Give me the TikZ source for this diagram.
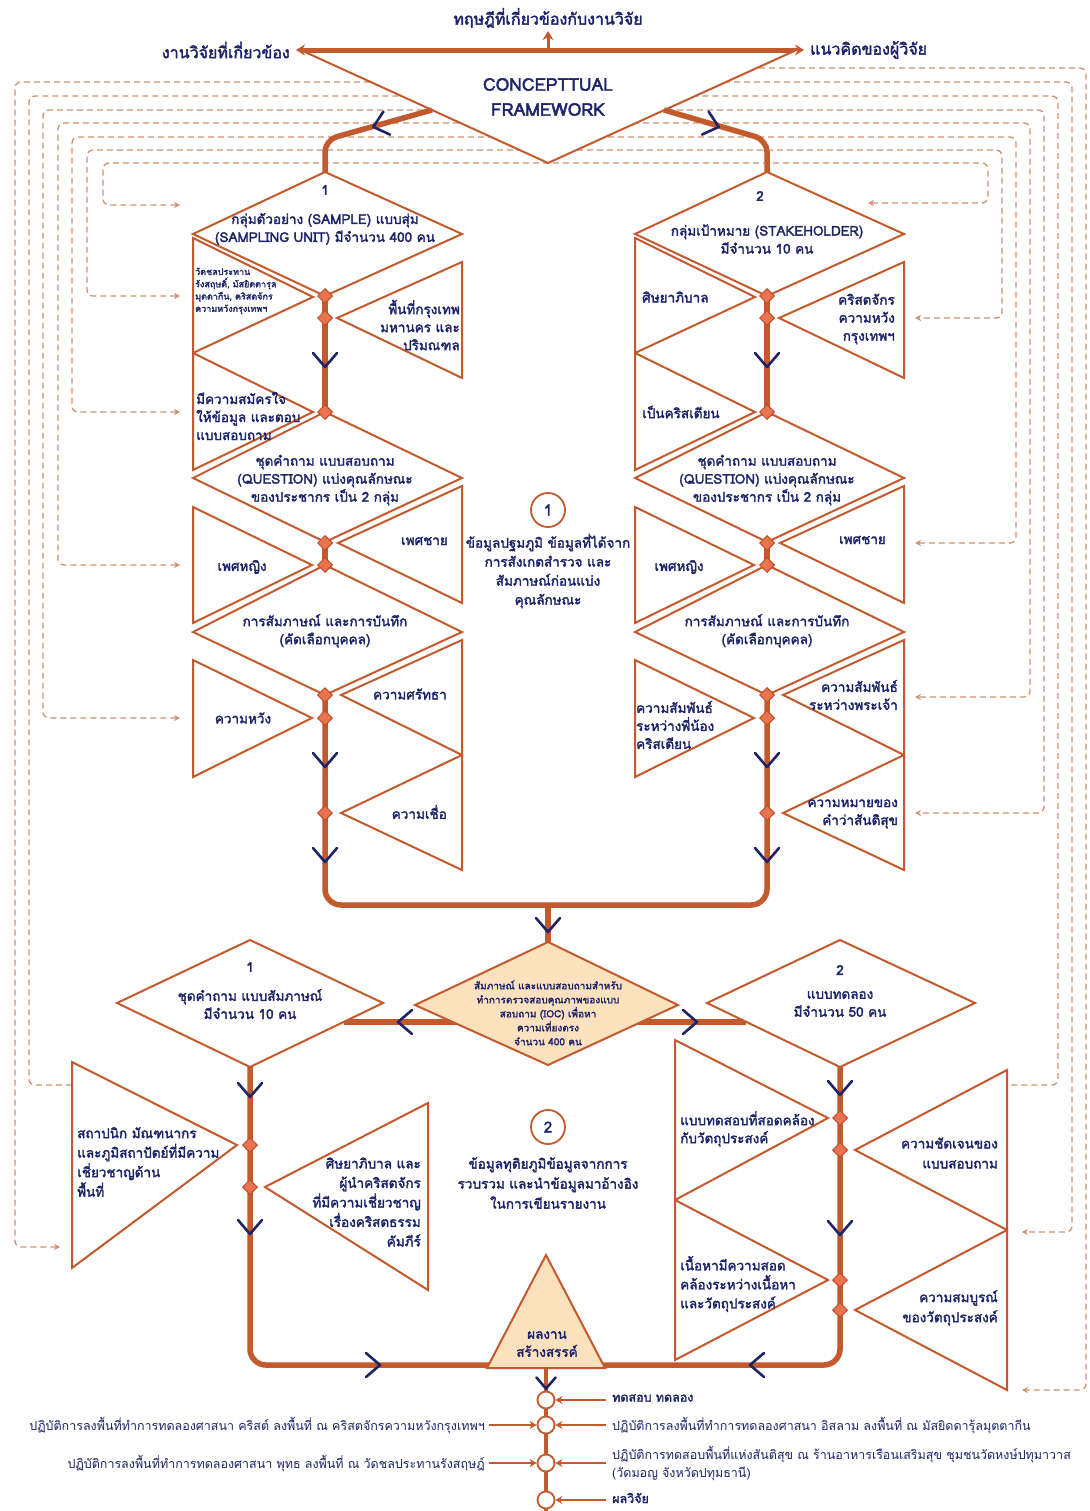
\documentclass[tikz,border=0pt]{standalone}
\usepackage{fontspec}
\setmainfont[Script=Thai,BoldFont=Loma,BoldFeatures={FakeBold=2.3}]{Loma}
\usepackage{tikz}
\usetikzlibrary{arrows.meta,calc,positioning,shapes.geometric}

\definecolor{rust}{HTML}{C35A2E}
\definecolor{navy}{HTML}{1D2568}
\definecolor{dashc}{HTML}{CF8F6E}
\definecolor{peach}{HTML}{FCE1BF}
\definecolor{markfill}{HTML}{EA7450}
\definecolor{markedge}{HTML}{C24A25}

% open triangle: edge x, top y, apex x, apex y, bottom y
\newcommand{\tri}[5]{\path[frame] (#1,#2) -- (#3,#4) -- (#1,#5) -- cycle;}
% kite: centre x, top y, left x, right x, middle y, bottom y
\newcommand{\kite}[6]{\path[frame] (#1,#2) -- (#4,#5) -- (#1,#6) -- (#3,#5) -- cycle;}

\begin{document}
\begin{tikzpicture}[x=1pt,y=-1pt,
  frame/.style={draw=rust,line width=2pt,fill=white},
  flow/.style={draw=rust,line width=5.5pt},
  dashlink/.style={draw=dashc,line width=1.3pt,dash pattern=on 6pt off 4pt,rounded corners=6pt},
  dtip/.style={{Stealth[length=6pt,width=6pt]}-{Stealth[length=6pt,width=6pt]}},
  marker/.style={diamond,draw=markedge,fill=markfill,line width=1pt,minimum size=15pt,inner sep=0pt},
  ring/.style={circle,draw=rust,fill=white,line width=1.8pt,minimum size=17pt,inner sep=0pt},
  numring/.style={circle,draw=rust,line width=1.8pt,minimum size=34pt,inner sep=0pt,text=navy,
                  font=\bfseries\fontsize{15}{16}\selectfont},
  lbl/.style={text=navy,font=\bfseries\fontsize{13.5}{18}\selectfont,align=center,inner sep=0pt},
  tiny/.style={text=navy,font=\bfseries\fontsize{9}{12.3}\selectfont,align=left,inner sep=0pt},
  note/.style={text=navy,font=\fontsize{12.5}{18}\selectfont,inner sep=0pt},
  head/.style={text=navy,font=\bfseries\fontsize{16}{18}\selectfont,inner sep=0pt},
  bar/.style={draw=rust,line width=2.8pt,-{Stealth[length=7pt,width=8pt]}},
  toparrow/.style={draw=rust,line width=3pt,-{Stealth[length=9pt,width=11pt]}},
  chev/.pic={\draw[navy,line width=2.6pt,line cap=round,line join=round] (-12,-7) -- (0,7) -- (12,-7);}]

\useasboundingbox[fill=white] (0,0) rectangle (1089,1511);

% dashed feedback loops
\foreach \ax/\ay/\xl/\yt/\xr/\bx/\by in {180/205/103/163/988/868/203,
    180/296/87/150/1002/915/318, 180/412/72/137/1016/915/543,
    180/565/58/123/1030/915/697, 180/718/43/110/1044/915/813,
    60/1247/15/82/1072/1022/1232}
  \draw[dashlink,dtip] (\ax,\ay) -- (\xl,\ay) -- (\xl,\yt) -- (\xr,\yt) -- (\xr,\by) -- (\bx,\by);
\draw[dashlink] (72,1085) -- (29,1085) -- (29,96) -- (1058,96) -- (1058,1085) -- (1007,1085);
\draw[dashlink,-{Stealth[length=6pt,width=6pt]}] (759,68) -- (1086,68) -- (1086,1390) -- (1022,1390);

% framework
\path[frame] (305,52) -- (792,52) -- (548,163) -- cycle;
\node[text=navy,font=\bfseries\fontsize{17.5}{25}\selectfont,align=center,inner sep=0pt] (cf) at (548,97)
  {CONCEPTTUAL\\FRAMEWORK};
\node[head] (theory) at (548,18) {ทฤษฎีที่เกี่ยวข้องกับงานวิจัย};
\node[head,anchor=east] (related) at (290,50) {งานวิจัยที่เกี่ยวข้อง};
\node[head,anchor=west] (idea) at (810,50) {แนวคิดของผู้วิจัย};
\coordinate (hub) at (548,50);
\draw[toparrow] (hub) -- ([xshift=6pt]related.east);
\draw[toparrow] (hub) -- ([xshift=-6pt]idea.west);
\draw[toparrow] (hub) -- ([yshift=-3pt]theory.south);

% thick flow lines
\draw[flow,rounded corners=12pt] (432,110) -- (325,140) -- (325,172);
\draw[flow,rounded corners=12pt] (664,110) -- (767,140) -- (767,172);
\foreach \cx in {325,767} {
  \draw[flow] (\cx,296) -- (\cx,412);
  \draw[flow] (\cx,543) -- (\cx,565);
}
\draw[flow,rounded corners=16pt] (325,695) -- (325,905) -- (767,905) -- (767,695);
\draw[flow] (548,905) -- (548,942);
\draw[flow] (344,1022) -- (746,1022);
\draw[flow,rounded corners=16pt] (250,1067) -- (250,1365) -- (840,1365) -- (840,1067);
\draw[draw=rust,line width=4pt] (546,1365) -- (546,1511);

% upper columns
\foreach \cx in {325,767} {
  \pgfmathsetmacro\L{\cx-132}
  \pgfmathsetmacro\R{\cx+137}
  \kite{\cx}{172}{\L}{\R}{234}{296}
  \tri{\L}{238}{\cx-12}{297}{353}
  \tri{\R}{262}{\cx+12}{318}{378}
  \tri{\L}{353}{\cx-12}{412}{470}
  \kite{\cx}{412}{\L}{\R}{478}{542}
  \tri{\R}{486}{\cx+13}{543}{603}
  \tri{\L}{507}{\cx-13}{565}{623}
  \kite{\cx}{565}{\L}{\R}{632}{695}
  \tri{\R}{640}{\cx+16}{695}{755}
  \tri{\L}{660}{\cx-13}{718}{777}
  \tri{\R}{755}{\cx+16}{813}{870}
}

% lower part
\kite{250}{940}{117}{383}{1003}{1067}
\kite{840}{940}{707}{975}{1003}{1067}
\tri{72}{1062}{237}{1145}{1268}
\tri{428}{1103}{265}{1187}{1290}
\tri{675}{1040}{828}{1118}{1200}
\tri{1007}{1070}{855}{1150}{1230}
\tri{675}{1200}{828}{1280}{1360}
\tri{1007}{1230}{855}{1310}{1390}
\path[frame,fill=peach] (548,942) -- (678,1005) -- (548,1065) -- (415,1005) -- cycle;
\path[frame,fill=peach] (546,1255) -- (605,1368) -- (487,1368) -- cycle;

% markers and chevrons
\foreach \cx in {325,767}
  \foreach \y in {296,318,412,543,565,695,718,813}
    \node[marker] (m\cx-\y) at (\cx,\y) {};
\foreach \mx/\my in {250/1145,250/1187,840/1118,840/1150,840/1280,840/1310}
  \node[marker] (m\mx-\my) at (\mx,\my) {};
\foreach \cx in {325,767}
  \foreach \y in {360,760,855}
    \pic at (\cx,\y) {chev};
\foreach \p/\q in {548/925,250/1090,250/1227,840/1088,840/1228}
  \pic at (\p,\q) {chev};
\pic[rotate=-90] at (405,1022) {chev};
\pic[rotate=90] at (690,1022) {chev};
\pic[rotate=90] at (373,1365) {chev};
\pic[rotate=-90] at (757,1365) {chev};
\pic[rotate=-74] at (380,125) {chev};
\pic[rotate=74] at (712,125) {chev};
\pic[scale=0.8] at (546,1383) {chev};

% left column texts
\node[lbl] (s1num) at (325,190) {1};
\node[lbl] (sample) at (325,229) {กลุ่มตัวอย่าง (SAMPLE) แบบสุ่ม\\(SAMPLING UNIT) มีจำนวน 400 คน};
\node[tiny,anchor=west] (site) at (195,291) {วัดชลประทาน\\รังสฤษดิ์, มัสยิดดารุล\\มุตตากีน, คริสตจักร\\ความหวังกรุงเทพฯ};
\node[lbl,anchor=east,align=right] (area) at (460,325) {พื้นที่กรุงเทพ\\มหานคร และ\\ปริมณฑล};
\node[lbl,anchor=west,align=left] (will) at (196,416) {มีความสมัครใจ\\ให้ข้อมูล และตอบ\\แบบสอบถาม};
\node[lbl] (quest1) at (325,480) {ชุดคำถาม แบบสอบถาม\\(QUESTION) แบ่งคุณลักษณะ\\ของประชากร เป็น 2 กลุ่ม};
\node[lbl,anchor=east] (male1) at (448,541) {เพศชาย};
\node[lbl] (female1) at (242,567) {เพศหญิง};
\node[lbl] (intv1) at (325,631) {การสัมภาษณ์ และการบันทึก\\(คัดเลือกบุคคล)};
\node[lbl,anchor=east] (faith) at (447,694) {ความศรัทธา};
\node[lbl] (hope) at (243,718) {ความหวัง};
\node[lbl,anchor=east] (belief) at (447,812) {ความเชื่อ};

% right column texts
\node[lbl] (s2num) at (760,196) {2};
\node[lbl] (stake) at (767,239) {กลุ่มเป้าหมาย (STAKEHOLDER)\\มีจำนวน 10 คน};
\node[lbl,anchor=west] (pastor) at (642,297) {ศิษยาภิบาล};
\node[lbl,anchor=east,align=right] (church) at (895,319) {คริสตจักร\\ความหวัง\\กรุงเทพฯ};
\node[lbl,anchor=west] (christian) at (642,412) {เป็นคริสเตียน};
\node[lbl] (quest2) at (767,480) {ชุดคำถาม แบบสอบถาม\\(QUESTION) แบ่งคุณลักษณะ\\ของประชากร เป็น 2 กลุ่ม};
\node[lbl,anchor=east] (male2) at (886,540) {เพศชาย};
\node[lbl] (female2) at (679,567) {เพศหญิง};
\node[lbl] (intv2) at (767,631) {การสัมภาษณ์ และการบันทึก\\(คัดเลือกบุคคล)};
\node[lbl,anchor=east,align=right] (god) at (898,695) {ความสัมพันธ์\\ระหว่างพระเจ้า};
\node[lbl,anchor=west,align=left] (kin) at (636,725) {ความสัมพันธ์\\ระหว่างพี่น้อง\\คริสเตียน};
\node[lbl,anchor=east,align=right] (peace) at (898,814) {ความหมายของ\\คำว่าสันติสุข};

% centre notes
\node[numring] (one) at (548,510) {1};
\node[lbl,font=\bfseries\fontsize{13.5}{19}\selectfont] (primary) at (548,571) {ข้อมูลปฐมภูมิ ข้อมูลที่ได้จาก\\การสังเกตสำรวจ และ\\สัมภาษณ์ก่อนแบ่ง\\คุณลักษณะ};
\node[numring] (two) at (548,1127) {2};
\node[lbl,font=\bfseries\fontsize{13.5}{20}\selectfont] (secondary) at (548,1183) {ข้อมูลทุติยภูมิข้อมูลจากการ\\รวบรวม และนำข้อมูลมาอ้างอิง\\ในการเขียนรายงาน};

% lower texts
\node[lbl] (n1) at (250,967) {1};
\node[lbl] (ivset) at (250,1004) {ชุดคำถาม แบบสัมภาษณ์\\มีจำนวน 10 คน};
\node[lbl] (n2) at (840,970) {2};
\node[lbl] (trial) at (840,1004) {แบบทดลอง\\มีจำนวน 50 คน};
\node[lbl,font=\bfseries\fontsize{10}{14}\selectfont] (ioc) at (548,1013)
  {สัมภาษณ์ และแบบสอบถามสำหรับ\\ทำการตรวจสอบคุณภาพของแบบ\\สอบถาม (IOC) เพื่อหา\\ความเที่ยงตรง\\จำนวน 400 คน};
\node[lbl,anchor=west,align=left,font=\bfseries\fontsize{13.5}{19.5}\selectfont] (arch) at (77,1162) {สถาปนิก มัณฑนากร\\และภูมิสถาปัตย์ที่มีความ\\เชี่ยวชาญด้าน\\พื้นที่};
\node[lbl,anchor=east,align=right,font=\bfseries\fontsize{13.5}{19.5}\selectfont] (lead) at (421,1202) {ศิษยาภิบาล และ\\ผู้นำคริสตจักร\\ที่มีความเชี่ยวชาญ\\เรื่องคริสตธรรม\\คัมภีร์};
\node[lbl,anchor=west,align=left] (match) at (680,1129) {แบบทดสอบที่สอดคล้อง\\กับวัตถุประสงค์};
\node[lbl,anchor=east,align=right,font=\bfseries\fontsize{13.5}{20}\selectfont] (clear) at (998,1153) {ความชัดเจนของ\\แบบสอบถาม};
\node[lbl,anchor=west,align=left,font=\bfseries\fontsize{13.5}{19}\selectfont] (content) at (680,1284) {เนื้อหามีความสอด\\คล้องระหว่างเนื้อหา\\และวัตถุประสงค์};
\node[lbl,anchor=east,align=right,font=\bfseries\fontsize{13.5}{20}\selectfont] (complete) at (998,1308) {ความสมบูรณ์\\ของวัตถุประสงค์};
\node[lbl] (work) at (547,1344) {ผลงาน\\สร้างสรรค์};

% bottom steps
\foreach \i/\y in {1/1400,2/1425,3/1463,4/1500}
  \node[ring] (c\i) at (546,\y) {};
\node[note,anchor=west,font=\bfseries\fontsize{12.5}{18}\selectfont] (r1) at (612,1398) {ทดสอบ ทดลอง};
\node[note,anchor=west] (r2) at (612,1425) {ปฏิบัติการลงพื้นที่ทำการทดลองศาสนา อิสลาม ลงพื้นที่ ณ มัสยิดดารุ้ลมุตตากีน};
\node[note,anchor=west,align=left] (r3) at (612,1463) {ปฏิบัติการทดสอบพื้นที่แห่งสันติสุข ณ ร้านอาหารเรือนเสริมสุข ชุมชนวัดหงษ์ปทุมาวาส\\(วัดมอญ จังหวัดปทุมธานี)};
\node[note,anchor=west,font=\bfseries\fontsize{12.5}{18}\selectfont] (r4) at (612,1498) {ผลวิจัย};
\node[note,anchor=east] (l2) at (485,1425) {ปฏิบัติการลงพื้นที่ทำการทดลองศาสนา คริสต์ ลงพื้นที่ ณ คริสตจักรความหวังกรุงเทพฯ};
\node[note,anchor=east] (l3) at (485,1463) {ปฏิบัติการลงพื้นที่ทำการทดลองศาสนา พุทธ ลงพื้นที่ ณ วัดชลประทานรังสฤษฎ์};
\foreach \i in {1,2,3,4}
  \draw[bar] ([xshift=-6pt]r\i.west |- c\i.east) -- (c\i.east);
\foreach \i in {2,3}
  \draw[bar] ([xshift=4pt]l\i.east |- c\i.west) -- (c\i.west);
\end{tikzpicture}
\end{document}
